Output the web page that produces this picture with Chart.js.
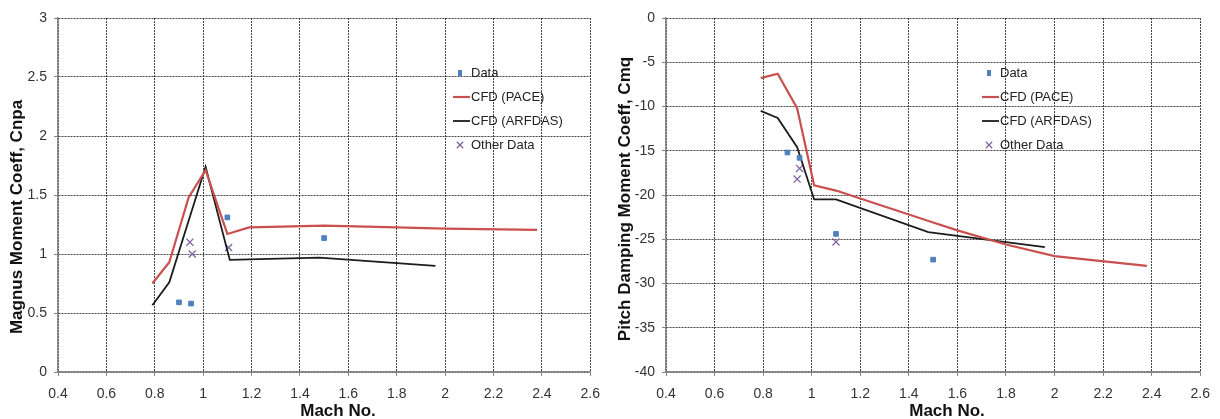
<!DOCTYPE html>
<html><head><meta charset="utf-8">
<script src="https://cdn.jsdelivr.net/npm/chart.js@4.4.1/dist/chart.umd.min.js"></script>
<style>
html,body{margin:0;padding:0;background:#fff;}
.row{display:flex;width:1220px;height:419px;}
canvas{display:block;}
</style></head><body>
<div class="row"><canvas id="cnpa" width="610" height="419"></canvas><canvas id="cmq" width="610" height="419"></canvas></div>
<script>
/* ---- Magnus moment (links) ---- */
const machDataL=[0.90,0.95,1.10,1.50];
const cnpaData=[0.59,0.58,1.31,1.135];
const machPaceL=[0.79,0.86,0.94,1.01,1.10,1.19,1.50,1.80,2.00,2.38];
const cnpaPace=[0.75,0.93,1.48,1.71,1.17,1.225,1.24,1.225,1.215,1.205];
const machArfL=[0.79,0.86,1.01,1.11,1.48,1.96];
const cnpaArf=[0.565,0.76,1.74,0.95,0.97,0.90];
const machOtherL=[0.945,0.955,1.105];
const cnpaOther=[1.10,1.00,1.055];

/* ---- Pitch damping (rechts) ---- */
const machDataR=[0.90,0.95,1.10,1.50];
const cmqData=[-15.2,-15.8,-24.4,-27.3];
const machPaceR=[0.79,0.86,0.94,1.01,1.10,1.50,1.60,1.80,2.00,2.38];
const cmqPace=[-6.8,-6.3,-10.2,-18.9,-19.5,-23.1,-24.0,-25.6,-26.9,-28.0];
const machArfR=[0.79,0.86,0.94,1.01,1.10,1.48,1.96];
const cmqArf=[-10.5,-11.3,-14.6,-20.5,-20.5,-24.2,-25.9];
const machOtherR=[0.95,0.94,1.10];
const cmqOther=[-17.0,-18.2,-25.3];

/* ---- Achsen / Texte ---- */
const machRange=[0.4,2.6,0.2];
const cnpaRange=[0,3,0.5];
const cmqRange=[-40,0,5];
const legendLabels=['Data','CFD (PACE)','CFD (ARFDAS)','Other Data'];
const xTitle='Mach No.';
const yTitleL='Magnus Moment Coeff, Cnpa';
const yTitleR='Pitch Damping Moment Coeff, Cmq';

const BLUE='#4f81bd',RED='#c8504f',BLACK='#1c1c1c',PURPLE='#8064a2';
const SANS='"Liberation Sans",Arial,sans-serif';
const zip=(xs,ys)=>xs.map((x,i)=>({x,y:ys[i]}));

const annot={id:'annot',afterDraw(c,a,o){
  const ctx=c.ctx,ds=c.data.datasets;ctx.save();
  ctx.font='13px '+SANS;ctx.textAlign='left';ctx.textBaseline='middle';
  legendLabels.forEach((t,i)=>{
    const y=o.ly+i*24,tx=o.lx,d=ds[i];
    ctx.fillStyle='#222';ctx.fillText(t,tx,y);
    if(i===0){ctx.fillStyle=d.backgroundColor;ctx.fillRect(tx-13,y-3,4,6);}
    else if(i<3){ctx.strokeStyle=d.borderColor;ctx.lineWidth=d.borderWidth;
      ctx.beginPath();ctx.moveTo(tx-18,y);ctx.lineTo(tx-1,y);ctx.stroke();}
    else{ctx.strokeStyle=d.borderColor;ctx.lineWidth=d.borderWidth;const r=3.2,cx=tx-11;
      ctx.beginPath();ctx.moveTo(cx-r,y-r);ctx.lineTo(cx+r,y+r);ctx.moveTo(cx-r,y+r);ctx.lineTo(cx+r,y-r);ctx.stroke();}
  });
  ctx.fillStyle='#111';ctx.font='bold 17px '+SANS;
  ctx.textAlign='center';ctx.textBaseline='middle';
  ctx.fillText(xTitle,o.xt[0],o.xt[1]);
  ctx.translate(o.yt[0],o.yt[1]);ctx.rotate(-Math.PI/2);ctx.fillText(o.yTitle,0,0);
  ctx.restore();
}};

function drawPanel(id,sets,yr,o){
  const el=document.getElementById(id);
  const tk={color:'#333',font:{family:SANS,size:14}};
  const grid={color:'#444',lineWidth:1,tickLength:4,tickColor:'#888',tickBorderDash:[]};
  new Chart(el,{type:'scatter',plugins:[annot],
    data:{datasets:[
      {label:legendLabels[0],data:sets[0],pointStyle:'rect',pointRadius:3.3,backgroundColor:BLUE,borderColor:BLUE,borderWidth:1},
      {label:legendLabels[1],data:sets[1],showLine:true,borderColor:RED,backgroundColor:RED,borderWidth:2.2,pointRadius:0,tension:0},
      {label:legendLabels[2],data:sets[2],showLine:true,borderColor:BLACK,backgroundColor:BLACK,borderWidth:1.8,pointRadius:0,tension:0},
      {label:legendLabels[3],data:sets[3],pointStyle:'crossRot',pointRadius:5,borderColor:PURPLE,backgroundColor:PURPLE,borderWidth:1.3}]},
    options:{responsive:false,animation:false,
      layout:{padding:{left:0,right:o.pr,top:18,bottom:0}},
      plugins:{legend:{display:false},tooltip:{enabled:false},annot:o},
      scales:{
        x:{type:'linear',min:machRange[0],max:machRange[1],
          ticks:{...tk,stepSize:machRange[2],padding:10,maxRotation:0,autoSkip:false,callback:v=>+v.toFixed(1)},
          grid:grid,border:{color:'#888',width:1.5,dash:[2,1]},
          afterFit:s=>{s.height=47;}},
        y:{type:'linear',min:yr[0],max:yr[1],
          ticks:{...tk,stepSize:yr[2],padding:7,callback:v=>+v.toFixed(1)},
          grid:grid,border:{color:'#888',width:1.5,dash:[2,1]},
          afterFit:s=>{s.width=o.yw;}}}}});
}

drawPanel('cnpa',[zip(machDataL,cnpaData),zip(machPaceL,cnpaPace),zip(machArfL,cnpaArf),zip(machOtherL,cnpaOther)],
  cnpaRange,{pr:10,yw:58,lx:471,ly:73,xt:[338,411],yt:[17,217],yTitle:yTitleL});
drawPanel('cmq',[zip(machDataR,cmqData),zip(machPaceR,cmqPace),zip(machArfR,cmqArf),zip(machOtherR,cmqOther)],
  cmqRange,{pr:12,yw:56,lx:390,ly:73,xt:[337,411],yt:[15,199],yTitle:yTitleR});
</script>
</body></html>
